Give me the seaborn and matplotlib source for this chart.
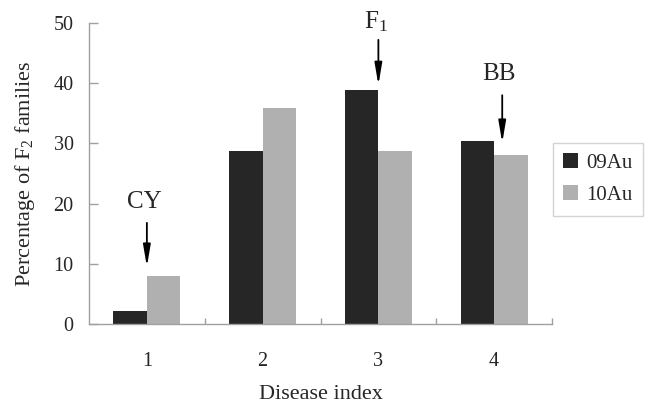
import matplotlib
matplotlib.use("Agg")
import matplotlib.pyplot as plt
import seaborn as sns
import pandas as pd
import numpy as np

categories = ["1", "2", "3", "4"]
series_names = ["09Au", "10Au"]
values_09 = [2.2, 28.8, 38.9, 30.4]
values_10 = [7.9, 35.8, 28.8, 28.1]
annot_labels = ["CY", r"F$_1$", "BB"]

sns.set_style("white")
plt.rcParams['font.family'] = ['Liberation Serif', 'DejaVu Serif']
plt.rcParams['mathtext.fontset'] = 'custom'
plt.rcParams['mathtext.rm'] = 'Liberation Serif'
plt.rcParams['mathtext.it'] = 'Liberation Serif'

df = pd.DataFrame({
    "cat": categories * 2,
    "val": values_09 + values_10,
    "series": [series_names[0]] * 4 + [series_names[1]] * 4,
})

fig = plt.figure(figsize=(6.5, 4.03), dpi=100)
ax = fig.add_axes([89/650, 1 - 324/403, (552-89)/650, (324-23)/403])

sns.barplot(data=df, x="cat", y="val", hue="series", order=categories,
            hue_order=series_names, palette=["#262626", "#b0b0b0"],
            width=0.58, saturation=1, ax=ax, edgecolor="none", linewidth=0)

ax.set_xlim(-0.5, 3.5)
ax.set_ylim(0, 50)
ax.set_yticks([0, 10, 20, 30, 40, 50])
for s in ["top", "right"]:
    ax.spines[s].set_visible(False)
for s in ["left", "bottom"]:
    ax.spines[s].set_color("#a0a0a0")
    ax.spines[s].set_linewidth(1.0)

ax.tick_params(axis="y", direction="in", length=6.5, width=1, color="#a0a0a0",
               labelsize=14.5, pad=11, left=True)
ax.tick_params(axis="x", which="major", length=0, labelsize=14.5, pad=20)
ax.set_xticks([0.5, 1.5, 2.5, 3.5], minor=True)
ax.tick_params(axis="x", which="minor", direction="in", length=4.5, width=1,
               color="#a0a0a0", bottom=True)

ax.set_xlabel("Disease index", fontsize=16, labelpad=10)
ax.set_ylabel(r"Percentage of F$_2$ families", fontsize=16, labelpad=12)

# annotations
arrow_kw = dict(arrowstyle="-|>,head_width=0.22,head_length=1.3", color="black",
                lw=1.3, shrinkA=0, shrinkB=0)
ax.annotate("", xy=(0.0, 9.5), xytext=(0.0, 16.8), arrowprops=arrow_kw)
ax.text(-0.02, 20.3, annot_labels[0], ha="center", va="center", fontsize=18)
ax.annotate("", xy=(2.0, 39.7), xytext=(2.0, 47.2), arrowprops=arrow_kw,
            annotation_clip=False)
ax.text(1.98, 50.2, annot_labels[1], ha="center", va="center", fontsize=18,
        clip_on=False)
ax.annotate("", xy=(3.07, 30.1), xytext=(3.07, 38.0), arrowprops=arrow_kw)
ax.text(3.04, 41.5, annot_labels[2], ha="center", va="center", fontsize=18)

leg = ax.legend(loc="upper left", bbox_to_anchor=(553/650, 1 - 143/403),
                bbox_transform=fig.transFigure, frameon=True, fancybox=False,
                edgecolor="#c8c8c8", fontsize=15, handlelength=0.7,
                handleheight=0.7, handletextpad=0.4, borderpad=0.5,
                labelspacing=0.6, borderaxespad=0)
leg.get_frame().set_linewidth(1.0)

fig.savefig("out.png", dpi=100)
